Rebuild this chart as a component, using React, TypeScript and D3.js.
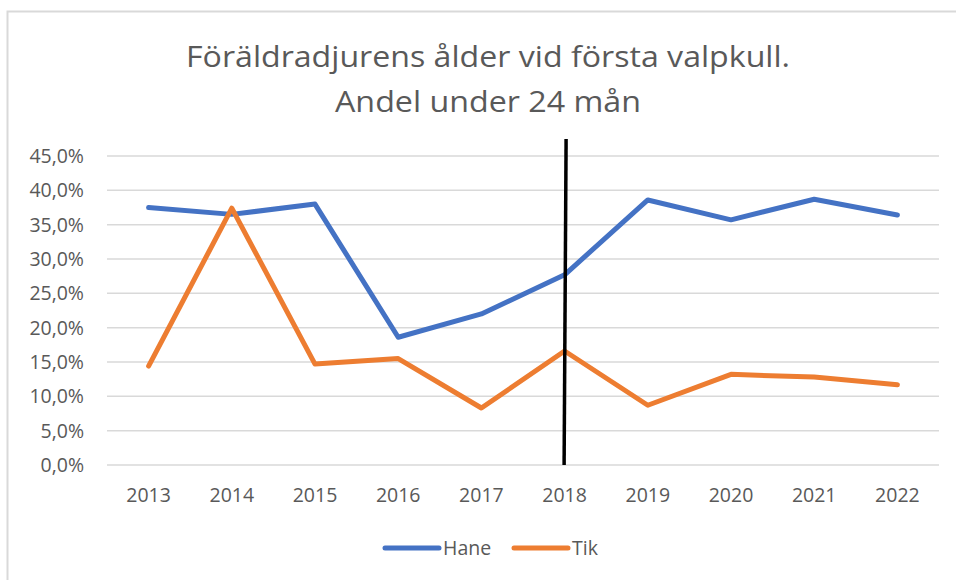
import * as d3 from "d3";
import { useEffect } from "react";

// chart values
const years = ["2013", "2014", "2015", "2016", "2017", "2018", "2019", "2020", "2021", "2022"];
const hane = [0.375, 0.365, 0.38, 0.186, 0.22, 0.277, 0.386, 0.357, 0.387, 0.364];
const tik = [0.144, 0.374, 0.147, 0.155, 0.083, 0.166, 0.087, 0.132, 0.128, 0.117];
const yTicks = [0, 0.05, 0.1, 0.15, 0.2, 0.25, 0.3, 0.35, 0.4, 0.45];
const titleLines = ["Föräldradjurens ålder vid första valpkull.", "Andel under 24 mån"];
const markerYear = "2018";

const W = 956, H = 580;
const FONT = "'Open Sans', 'Noto Sans', sans-serif";
const TEXT = "#595959";

const App = () => {
  useEffect(() => {
    document.body.style.margin = "0";
  }, []);

  const x = d3.scalePoint<string>().domain(years).range([107, 939]).padding(0.5);
  const y = d3.scaleLinear().domain([0, 0.45]).range([465, 156]);

  const line = d3.line<number>()
    .x((_, i) => x(years[i]) as number)
    .y((d) => y(d));

  const fmt = (v: number) => (v * 100).toFixed(1).replace(".", ",") + "%";

  const series = [
    { name: "Hane", values: hane, color: "#4472C4" },
    { name: "Tik", values: tik, color: "#ED7D31" },
  ];

  const mx = x(markerYear) as number;
  const titleWidths = [604, 306];

  return (
    <svg width={W} height={H} style={{ display: "block", background: "#fff" }}>
      {/* chart border */}
      <rect x={7.5} y={11.5} width={970} height={600} fill="none" stroke="#d9d9d9" strokeWidth={2} />

      {/* title */}
      {titleLines.map((t, i) => (
        <text key={i} x={488} y={67 + i * 45} textAnchor="middle" fontFamily={FONT}
          fontSize={30} fill={TEXT} textLength={titleWidths[i]} lengthAdjust="spacingAndGlyphs">{t}</text>
      ))}

      {/* grid and y labels */}
      {yTicks.map((t) => (
        <g key={t}>
          <line x1={107} x2={939} y1={y(t)} y2={y(t)} stroke="#d9d9d9" strokeWidth={1.5} />
          <text x={84} y={y(t)} dy="0.36em" textAnchor="end" fontFamily={FONT}
            fontSize={19.5} fill={TEXT}>{fmt(t)}</text>
        </g>
      ))}

      {/* x labels */}
      {years.map((yr) => (
        <text key={yr} x={x(yr)} y={495} dy="0.36em" textAnchor="middle" fontFamily={FONT}
          fontSize={19.5} fill={TEXT}>{yr}</text>
      ))}

      {/* series */}
      {series.map((s) => (
        <path key={s.name} d={line(s.values) || ""} fill="none" stroke={s.color}
          strokeWidth={5} strokeLinecap="round" strokeLinejoin="round" />
      ))}

      {/* vertical marker */}
      <line x1={mx + 1.5} x2={mx - 0.5} y1={139} y2={465} stroke="#000" strokeWidth={3.5} />

      {/* legend */}
      {series.map((s, i) => {
        const lx = 385 + i * 129;
        return (
          <g key={s.name}>
            <line x1={lx} x2={lx + 54} y1={548} y2={548} stroke={s.color} strokeWidth={5} strokeLinecap="round" />
            <text x={lx + 58} y={548} dy="0.36em" fontFamily={FONT} fontSize={19.5} fill={TEXT}>{s.name}</text>
          </g>
        );
      })}
    </svg>
  );
};

export default App;
